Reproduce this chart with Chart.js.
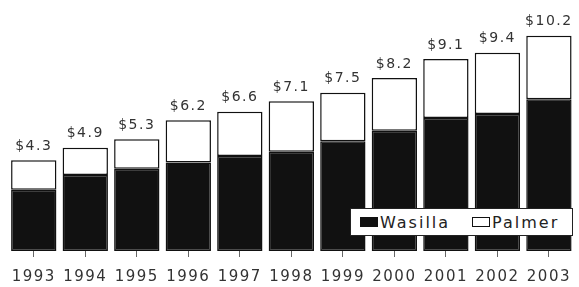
<!DOCTYPE html>
<html><head><meta charset="utf-8">
<script src="https://cdn.jsdelivr.net/npm/chart.js@4/dist/chart.umd.min.js"></script>
<style>
html,body{margin:0;padding:0;background:#fff;}
#wrap{position:relative;width:579px;height:287px;}
#legend{position:absolute;left:350px;top:208px;width:223px;height:28px;border:1.5px solid #222;background:#fff;box-sizing:border-box;font-family:"DejaVu Sans",sans-serif;font-size:16px;letter-spacing:2px;color:#222;display:flex;align-items:center;}
.sw{display:inline-block;width:18px;height:10px;border:1.5px solid #111;box-sizing:border-box;margin-right:2px;}
.item{display:flex;align-items:center;}
</style></head>
<body><div id="wrap"><canvas id="c" width="579" height="287"></canvas>
<div id="legend"><span class="item" style="margin-left:9px"><span class="sw" style="background:#111"></span>Wasilla</span><span class="item" style="margin-left:22px"><span class="sw" style="background:#fff"></span>Palmer</span></div>
</div>
<script>
const years = ["1993","1994","1995","1996","1997","1998","1999","2000","2001","2002","2003"];
const wasilla = [2.9,3.6,3.9,4.2,4.5,4.7,5.2,5.7,6.3,6.5,7.2];
const palmer = [1.4,1.3,1.4,2.0,2.1,2.4,2.3,2.5,2.8,2.9,3.0];
const totalLabels = ["$4.3","$4.9","$5.3","$6.2","$6.6","$7.1","$7.5","$8.2","$9.1","$9.4","$10.2"];

const spacingPlugin = {
  id:'spacing',
  beforeDraw(chart){ chart.ctx.letterSpacing = '1.5px'; }
};
const totalsPlugin = {
  id:'totals',
  afterDatasetsDraw(chart){
    const ctx = chart.ctx, xs = chart.scales.x, ys = chart.scales.y;
    ctx.save();
    ctx.letterSpacing = '1.5px';
    ctx.font = '14px "DejaVu Sans", sans-serif';
    ctx.fillStyle = '#333';
    ctx.textAlign = 'center';
    ctx.textBaseline = 'middle';
    years.forEach((y,i)=>{
      const t = wasilla[i] + palmer[i];
      ctx.fillText(totalLabels[i], xs.getPixelForValue(i), ys.getPixelForValue(t) - 14);
    });
    ctx.restore();
  }
};

new Chart(document.getElementById('c'), {
  type:'bar',
  data:{
    labels: years,
    datasets:[
      {label:'Wasilla', data:wasilla, backgroundColor:'#111', borderColor:'#111', borderWidth:1.5, borderSkipped:false},
      {label:'Palmer', data:palmer, backgroundColor:'#fff', borderColor:'#111', borderWidth:1.5, borderSkipped:false}
    ]
  },
  options:{
    responsive:false,
    animation:false,
    layout:{padding:{left:8,right:0,top:0,bottom:1}},
    plugins:{legend:{display:false}, tooltip:{enabled:false}},
    datasets:{bar:{categoryPercentage:1.0, barPercentage:0.88}},
    scales:{
      x:{
        stacked:true,
        afterFit(scale){ scale.height = 35; },
        grid:{display:true, drawOnChartArea:false, drawTicks:true, tickLength:6, color:'#666', offset:false},
        border:{display:false},
        ticks:{font:{family:'"DejaVu Sans", sans-serif', size:15}, color:'#333', padding:11, maxRotation:0, autoSkip:false}
      },
      y:{stacked:true, display:false, min:0, max:11.9}
    }
  },
  plugins:[spacingPlugin, totalsPlugin]
});
</script></body></html>
